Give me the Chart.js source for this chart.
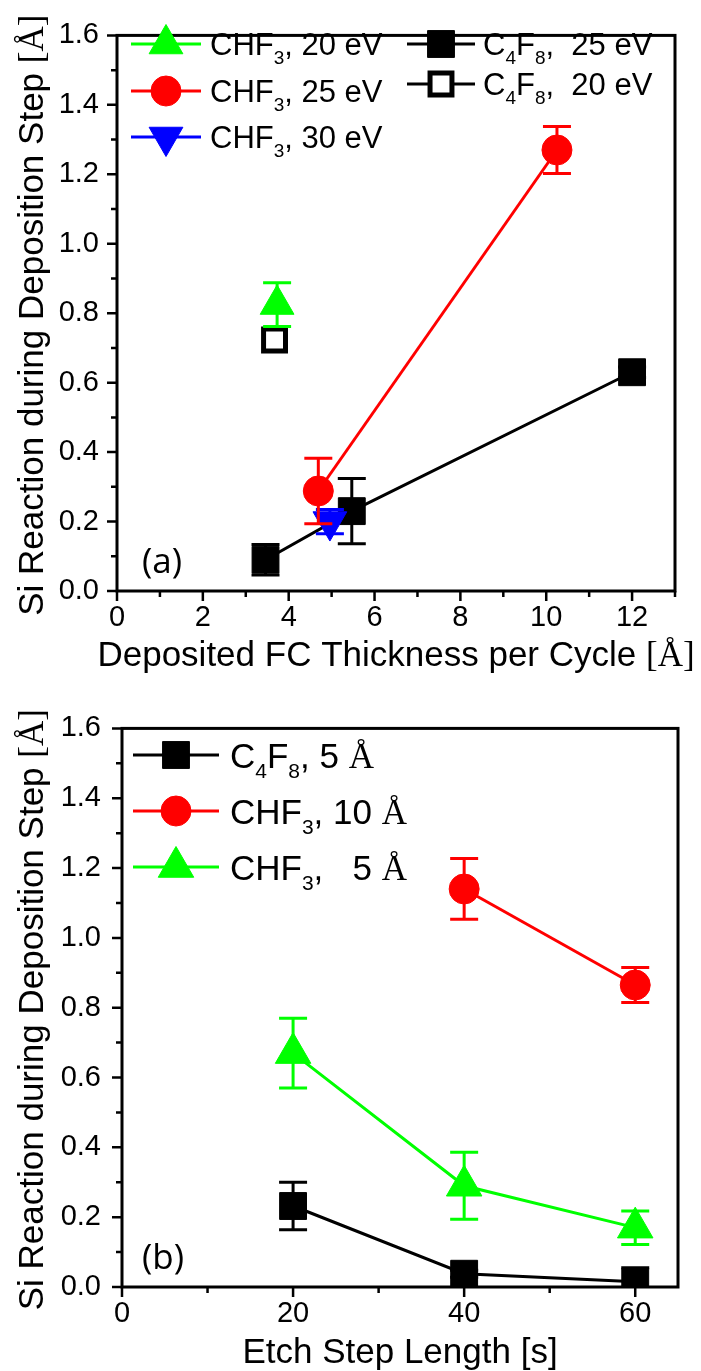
<!DOCTYPE html>
<html>
<head>
<meta charset="utf-8">
<script src="https://cdn.jsdelivr.net/npm/chart.js@4.4.1/dist/chart.umd.min.js"></script>
<style>
  html, body { margin: 0; padding: 0; background: #ffffff; }
  #wrap { position: relative; width: 701px; height: 1371px; overflow: hidden; }
  #wrap canvas { position: absolute; left: 0; }
  #cA { top: 0; }
  #cB { top: 690px; }
</style>
</head>
<body>
<div id="wrap">
  <canvas id="cA" width="701" height="690"></canvas>
  <canvas id="cB" width="701" height="681"></canvas>
</div>
<script>
// ---- (a) Si reaction vs. deposited FC thickness per cycle ----
const thickCHF3_20 = [3.73];
const reactCHF3_20 = [0.825];
const errCHF3_20   = [0.063];

const thickCHF3_25 = [4.69, 10.25];
const reactCHF3_25 = [0.288, 1.27];
const errCHF3_25   = [0.094, 0.068];

const thickCHF3_30 = [4.96];
const reactCHF3_30 = [0.2];
const errCHF3_30   = [0.035];

const thickC4F8_25 = [3.46, 5.47, 12.0];
const reactC4F8_25 = [0.09, 0.23, 0.63];
const errC4F8_25   = [0.044, 0.094, 0.015];

const thickC4F8_20 = [3.67];
const reactC4F8_20 = [0.723];
const errC4F8_20   = [0];

// ---- (b) Si reaction vs. etch step length ----
const etchC4F8_5  = [20, 40, 60];
const reactC4F8_5 = [0.232, 0.038, 0.015];
const errC4F8_5   = [0.068, 0.01, 0.04];

const etchCHF3_10  = [40, 60];
const reactCHF3_10 = [1.14, 0.865];
const errCHF3_10   = [0.087, 0.05];

const etchCHF3_5  = [20, 40, 60];
const reactCHF3_5 = [0.67, 0.29, 0.17];
const errCHF3_5   = [0.1, 0.096, 0.048];

// ---- labels ----
const seriesNamesA = ['CHF₃, 20 eV', 'CHF₃, 25 eV', 'CHF₃, 30 eV', 'C₄F₈,  25 eV', 'C₄F₈,  20 eV'];
const seriesNamesB = ['C₄F₈, 5 Å', 'CHF₃, 10 Å', 'CHF₃,   5 Å'];
const xTitleA = 'Deposited FC Thickness per Cycle [Å]';
const xTitleB = 'Etch Step Length [s]';
const yTitle  = 'Si Reaction during Deposition Step [Å]';
const xTickLabelsA = [0, 2, 4, 6, 8, 10, 12];
const xTickLabelsB = [0, 20, 40, 60];
const yTickLabels  = [0.0, 0.2, 0.4, 0.6, 0.8, 1.0, 1.2, 1.4, 1.6];
const panelTags = ['(a)', '(b)'];

const GREEN = '#00ff00', RED = '#ff0000', BLUE = '#0000ff', BLACK = '#000000';
const SANS = '"Liberation Sans", Arial, sans-serif';
const SERIF = '"Liberation Serif", "Times New Roman", serif';
const SUBS = '₀₁₂₃₄₅₆₇₈₉';

function pts(xs, ys) { return xs.map((x, i) => ({ x: x, y: ys[i] })); }

// split a label into plain, subscript and serif (Å) runs
function textRuns(text, size) {
  return text.split(/(\[Å\]|Å|[₀-₉]+)/).filter(s => s.length).map(p => {
    if (p === '[Å]' || p === 'Å') return { t: p, font: size + 'px ' + SERIF, dy: 0 };
    if (/^[₀-₉]+$/.test(p)) {
      const digits = Array.from(p).map(c => String(SUBS.indexOf(c))).join('');
      return { t: digits, font: Math.round(size * 0.6) + 'px ' + SANS, dy: size * 0.30 };
    }
    return { t: p, font: size + 'px ' + SANS, dy: 0 };
  });
}
function drawRuns(ctx, text, size, x, baseline, align) {
  const runs = textRuns(text, size);
  let w = 0;
  runs.forEach(r => { ctx.font = r.font; r.w = ctx.measureText(r.t).width; w += r.w; });
  let cx = align === 'center' ? x - w / 2 : x;
  ctx.textAlign = 'left';
  ctx.textBaseline = 'alphabetic';
  runs.forEach(r => { ctx.font = r.font; ctx.fillText(r.t, cx, baseline + r.dy); cx += r.w; });
}

// marker shapes with the same geometry as Chart.js point styles
function marker(ctx, ds, x, y) {
  const r = ds.pointRadius, rot = (ds.pointRotation || 0) * Math.PI / 180;
  ctx.save();
  ctx.fillStyle = ds.pointBackgroundColor;
  ctx.strokeStyle = ds.pointBorderColor;
  ctx.lineWidth = ds.pointBorderWidth;
  ctx.beginPath();
  if (ds.pointStyle === 'circle') {
    ctx.arc(x, y, r, 0, Math.PI * 2);
  } else if (ds.pointStyle === 'rect') {
    const s = Math.SQRT1_2 * r;
    ctx.rect(x - s, y - s, 2 * s, 2 * s);
  } else {
    let a = rot;
    ctx.moveTo(x + Math.sin(a) * r, y - Math.cos(a) * r);
    a += 2 * Math.PI / 3;
    ctx.lineTo(x + Math.sin(a) * r, y - Math.cos(a) * r);
    a += 2 * Math.PI / 3;
    ctx.lineTo(x + Math.sin(a) * r, y - Math.cos(a) * r);
    ctx.closePath();
  }
  ctx.fill();
  if (ds.pointBorderWidth > 0) ctx.stroke();
  ctx.restore();
}

// vertical error bars with caps, drawn right after each dataset
const errorBars = {
  id: 'errorBars',
  afterDatasetDraw(chart, args) {
    const ds = chart.data.datasets[args.index];
    if (!ds.errors) return;
    const ys = chart.scales.y, ctx = chart.ctx, a = chart.chartArea;
    ctx.save();
    ctx.beginPath();
    ctx.rect(a.left, a.top, a.right - a.left, a.bottom - a.top);
    ctx.clip();
    ctx.strokeStyle = ds.borderColor;
    ctx.lineWidth = 3;
    args.meta.data.forEach((el, i) => {
      const e = ds.errors[i];
      if (!e) return;
      const v = ds.data[i].y;
      const yt = ys.getPixelForValue(v + e), yb = ys.getPixelForValue(v - e);
      const cw = 14;
      ctx.beginPath();
      ctx.moveTo(el.x, yt); ctx.lineTo(el.x, yb);
      ctx.moveTo(el.x - cw, yt); ctx.lineTo(el.x + cw, yt);
      ctx.moveTo(el.x - cw, yb); ctx.lineTo(el.x + cw, yb);
      ctx.stroke();
    });
    ctx.restore();
  }
};

// boxed frame, outward major/minor ticks, axis titles, legend and panel tag
const decorations = {
  id: 'decorations',
  afterDraw(chart, args, o) {
    const ctx = chart.ctx, a = chart.chartArea;
    const xs = chart.scales.x, ys = chart.scales.y;
    ctx.save();
    ctx.strokeStyle = BLACK;
    ctx.lineWidth = 2.5;
    ctx.beginPath();
    xs.ticks.forEach(t => {
      const p = xs.getPixelForValue(t.value);
      const len = t.label ? 10 : 6;
      ctx.moveTo(p, a.bottom); ctx.lineTo(p, a.bottom + len);
    });
    ys.ticks.forEach(t => {
      const p = ys.getPixelForValue(t.value);
      const len = t.label ? 10 : 6;
      ctx.moveTo(a.left - len, p); ctx.lineTo(a.left, p);
    });
    ctx.stroke();
    ctx.lineWidth = 3;
    ctx.strokeRect(a.left, a.top, a.right - a.left, a.bottom - a.top);

    ctx.fillStyle = BLACK;
    // x title
    drawRuns(ctx, o.xTitle, o.titleSize, (a.left + a.right) / 2, o.xTitleY + 0.358 * o.titleSize, 'center');
    // y title, rotated
    ctx.save();
    ctx.translate(o.yTitleX, (a.top + a.bottom) / 2 + o.yTitleShift);
    ctx.rotate(-Math.PI / 2);
    drawRuns(ctx, yTitle, o.titleSize, 0, 0.358 * o.titleSize, 'center');
    ctx.restore();

    // legend
    o.legend.forEach(item => {
      const ds = chart.data.datasets[item.ds];
      ctx.strokeStyle = ds.borderColor;
      ctx.lineWidth = 3;
      ctx.beginPath();
      ctx.moveTo(item.x0, item.y); ctx.lineTo(item.x1, item.y);
      ctx.stroke();
      marker(ctx, ds, (item.x0 + item.x1) / 2, item.y);
      ctx.fillStyle = BLACK;
      drawRuns(ctx, ds.label, o.legendSize, item.tx, item.y + 0.358 * o.legendSize, 'left');
    });

    // panel tag
    ctx.font = o.tagSize + 'px "Open Sans", sans-serif';
    ctx.textAlign = 'center';
    ctx.textBaseline = 'alphabetic';
    ctx.fillText(o.tag, o.tagX, o.tagY + 0.26 * o.tagSize);
    ctx.restore();
  }
};

function hasLabel(list, v) { return list.some(l => Math.abs(l - v) < 1e-6); }

function axes(xMin, xMax, xStep, xLabels, yAxisWidth, xAxisHeight, yPad) {
  const tickFont = { family: 'Liberation Sans', size: 29 };
  return {
    x: {
      type: 'linear', min: xMin, max: xMax,
      grid: { display: false, drawTicks: false },
      border: { display: false },
      ticks: {
        stepSize: xStep, autoSkip: false, maxRotation: 0, includeBounds: false,
        padding: 10, color: BLACK, font: tickFont,
        callback: v => hasLabel(xLabels, v) ? String(Math.round(v)) : ''
      },
      afterFit: s => { s.height = xAxisHeight; }
    },
    y: {
      type: 'linear', min: 0, max: 1.6,
      grid: { display: false, drawTicks: false },
      border: { display: false },
      ticks: {
        stepSize: 0.1, autoSkip: false, includeBounds: false,
        padding: yPad, color: BLACK, font: tickFont,
        callback: v => hasLabel(yTickLabels, v) ? v.toFixed(1) : ''
      },
      afterFit: s => { s.width = yAxisWidth; }
    }
  };
}

function series(label, data, errors, color, style, radius, extra) {
  return Object.assign({
    label: label, data: data, errors: errors,
    showLine: data.length > 1, borderColor: color, borderWidth: 3, tension: 0,
    pointStyle: style, pointRadius: radius, pointHoverRadius: radius,
    pointBackgroundColor: color, pointBorderColor: color, pointBorderWidth: 1,
    pointRotation: 0
  }, extra || {});
}

const common = {
  responsive: false, animation: false, events: [],
  plugins: { legend: { display: false }, tooltip: { enabled: false } }
};

new Chart(document.getElementById('cA'), {
  type: 'scatter',
  data: {
    datasets: [
      series(seriesNamesA[0], pts(thickCHF3_20, reactCHF3_20), errCHF3_20, GREEN, 'triangle', 19.5),
      series(seriesNamesA[1], pts(thickCHF3_25, reactCHF3_25), errCHF3_25, RED, 'circle', 15),
      series(seriesNamesA[2], pts(thickCHF3_30, reactCHF3_30), errCHF3_30, BLUE, 'triangle', 19.5, { pointRotation: 180 }),
      series(seriesNamesA[3], pts(thickC4F8_25, reactC4F8_25), errC4F8_25, BLACK, 'rect', 19),
      series(seriesNamesA[4], pts(thickC4F8_20, reactC4F8_20), errC4F8_20, BLACK, 'rect', 15.5,
             { pointBackgroundColor: '#ffffff', pointBorderWidth: 5 })
    ]
  },
  options: Object.assign({}, common, {
    layout: { padding: { top: 18, right: 26, left: 0, bottom: 0 } },
    scales: axes(0, 13, 1, xTickLabelsA, 117, 99, 18),
    plugins: Object.assign({}, common.plugins, {
      decorations: {
        xTitle: xTitleA, xTitleY: 653, yTitleX: 30, yTitleShift: 2, titleSize: 35,
        legendSize: 31, tag: panelTags[0], tagX: 162, tagY: 564, tagSize: 35,
        legend: [
          { ds: 0, x0: 131, x1: 201, y: 44, tx: 210 },
          { ds: 1, x0: 131, x1: 201, y: 91, tx: 210 },
          { ds: 2, x0: 131, x1: 201, y: 137, tx: 210 },
          { ds: 3, x0: 407, x1: 475, y: 44, tx: 483 },
          { ds: 4, x0: 407, x1: 475, y: 84, tx: 483 }
        ]
      }
    })
  }),
  plugins: [errorBars, decorations]
});

new Chart(document.getElementById('cB'), {
  type: 'scatter',
  data: {
    datasets: [
      series(seriesNamesB[0], pts(etchC4F8_5, reactC4F8_5), errC4F8_5, BLACK, 'rect', 19),
      series(seriesNamesB[1], pts(etchCHF3_10, reactCHF3_10), errCHF3_10, RED, 'circle', 15),
      series(seriesNamesB[2], pts(etchCHF3_5, reactCHF3_5), errCHF3_5, GREEN, 'triangle', 20.5)
    ]
  },
  options: Object.assign({}, common, {
    layout: { padding: { top: 25, right: 23, left: 0, bottom: 0 } },
    scales: axes(0, 65, 10, xTickLabelsB, 122, 84, 21),
    plugins: Object.assign({}, common.plugins, {
      decorations: {
        xTitle: xTitleB, xTitleY: 660, yTitleX: 30, yTitleShift: 2, titleSize: 35,
        legendSize: 35, tag: panelTags[1], tagX: 163, tagY: 570, tagSize: 35,
        legend: [
          { ds: 0, x0: 133, x1: 219, y: 65, tx: 230 },
          { ds: 1, x0: 133, x1: 219, y: 121, tx: 230 },
          { ds: 2, x0: 133, x1: 219, y: 177, tx: 230 }
        ]
      }
    })
  }),
  plugins: [errorBars, decorations]
});
</script>
</body>
</html>
